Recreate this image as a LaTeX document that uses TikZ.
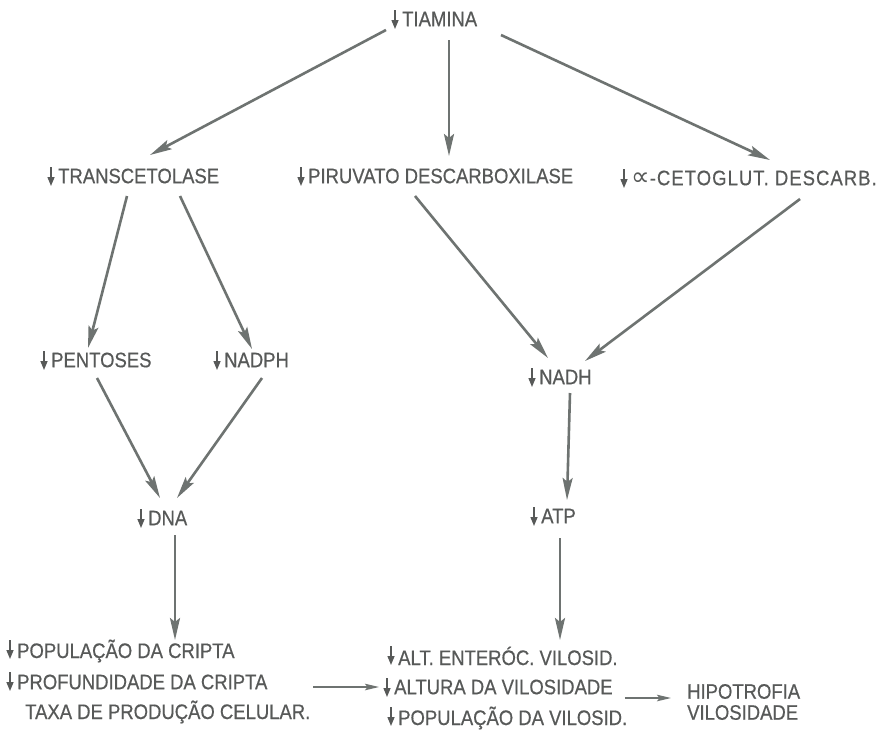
\documentclass[tikz,border=0pt]{standalone}
\usepackage{fontspec}
\setmainfont{Liberation Sans}[FakeStretch=0.88,FakeBold=0.5]
\newfontfamily\symfont{DejaVu Sans}
\usetikzlibrary{arrows.meta,calc}
\definecolor{txt}{HTML}{575958}
\definecolor{ln}{HTML}{6E7371}
\newcommand{\dn}{\hspace*{11pt}}
\begin{document}
\begin{tikzpicture}[x=1pt,y=-1pt,
  lbl/.style={anchor=west,inner sep=0pt,text=txt,font=\fontsize{21}{21}\selectfont},
  arr/.style={draw=ln,line width=2.6pt,-{Stealth[length=22pt,width=10pt,inset=4pt]}},
  harr/.style={draw=ln,line width=1.6pt,-{Stealth[length=14pt,width=6.5pt,inset=2.5pt]}},
  glyph/.style={draw=txt,line width=1.4pt,-{Triangle[length=9pt,width=7pt]}}]
\useasboundingbox[fill=white] (0,0) rectangle (886,740);
% nodes
\node[lbl] (tia) at (391,19) {\dn TIAMINA};
\node[lbl] (tra) at (47,176) {\dn TRANSCETOLASE};
\node[lbl] (pir) at (297,176) {\dn PIRUVATO DESCARBOXILASE};
\node[lbl] (ceto) at (620,178) {\dn{\symfont\fontsize{26}{21}\selectfont ∝}\addfontfeature{LetterSpace=5}-CETOGLUT. DESCARB.};
\node[lbl] (pen) at (40,360) {\dn PENTOSES};
\node[lbl] (nadph) at (213,360) {\dn NADPH};
\node[lbl] (nadh) at (528,377) {\dn NADH};
\node[lbl] (dna) at (137,518) {\dn DNA};
\node[lbl] (atp) at (530,516) {\dn ATP};
\node[lbl] (pop1) at (6,651) {\dn POPULAÇÃO DA CRIPTA};
\node[lbl] (prof) at (6,682) {\dn PROFUNDIDADE DA CRIPTA};
\node[lbl] (taxa) at (25,712) {TAXA DE PRODUÇÃO CELULAR.};
\node[lbl] (alt) at (387,656) {\dn ALT. ENTERÓC. VILOSID.};
\node[lbl] (altura) at (383,687) {\dn ALTURA DA VILOSIDADE};
\node[lbl] (popv) at (387,718) {\dn POPULAÇÃO DA VILOSID.};
\node[lbl,align=left] (hip) at (687,702) {HIPOTROFIA\\VILOSIDADE};
% down-arrow marks before the labels
\foreach \n/\dy in {tia/0,tra/0,pir/0,ceto/0,pen/0,nadph/0,nadh/0,dna/0,atp/0,pop1/-2,prof/-1,alt/-1,altura/0,popv/-2}
  \draw[glyph] ($(\n.west)+(4,-9+\dy)$) -- ($(\n.west)+(4,10+\dy)$);
% connectors
\draw[arr] ($(tia.west)+(-5,11)$) -- ($(tra.west)+(103,-21)$);
\draw[arr] ($(tia.west)+(58,21)$) -- ($(pir.west)+(152,-20)$);
\draw[arr] ($(tia.west)+(110,16)$) -- ($(ceto.west)+(150,-18)$);
\draw[arr] ($(tra.west)+(80,20)$) -- ($(pen.west)+(48,-12)$);
\draw[arr] ($(tra.west)+(133,20)$) -- ($(nadph.west)+(39,-11)$);
\draw[arr] ($(pir.west)+(118,20)$) -- ($(nadh.west)+(20,-19)$);
\draw[arr] ($(ceto.west)+(180,21)$) -- ($(nadh.west)+(57,-16)$);
\draw[arr] ($(pen.west)+(57,18)$) -- ($(dna.west)+(23,-20)$);
\draw[arr] ($(nadph.west)+(49,18)$) -- ($(dna.west)+(40,-20)$);
\draw[arr] ($(nadh.west)+(42,16)$) -- ($(atp.west)+(37,-16)$);
\draw[arr] ($(dna.west)+(38,17)$) -- ($(pop1.west)+(169,-11)$);
\draw[arr] ($(atp.west)+(30,22)$) -- ($(alt.west)+(173,-16)$);
\draw[harr] ($(prof.west)+(307,5)$) -- ($(altura.west)+(-4,0)$);
\draw[harr] ($(altura.east)+(12,11)$) -- ($(hip.west)+(-16,-4)$);
\end{tikzpicture}
\end{document}
